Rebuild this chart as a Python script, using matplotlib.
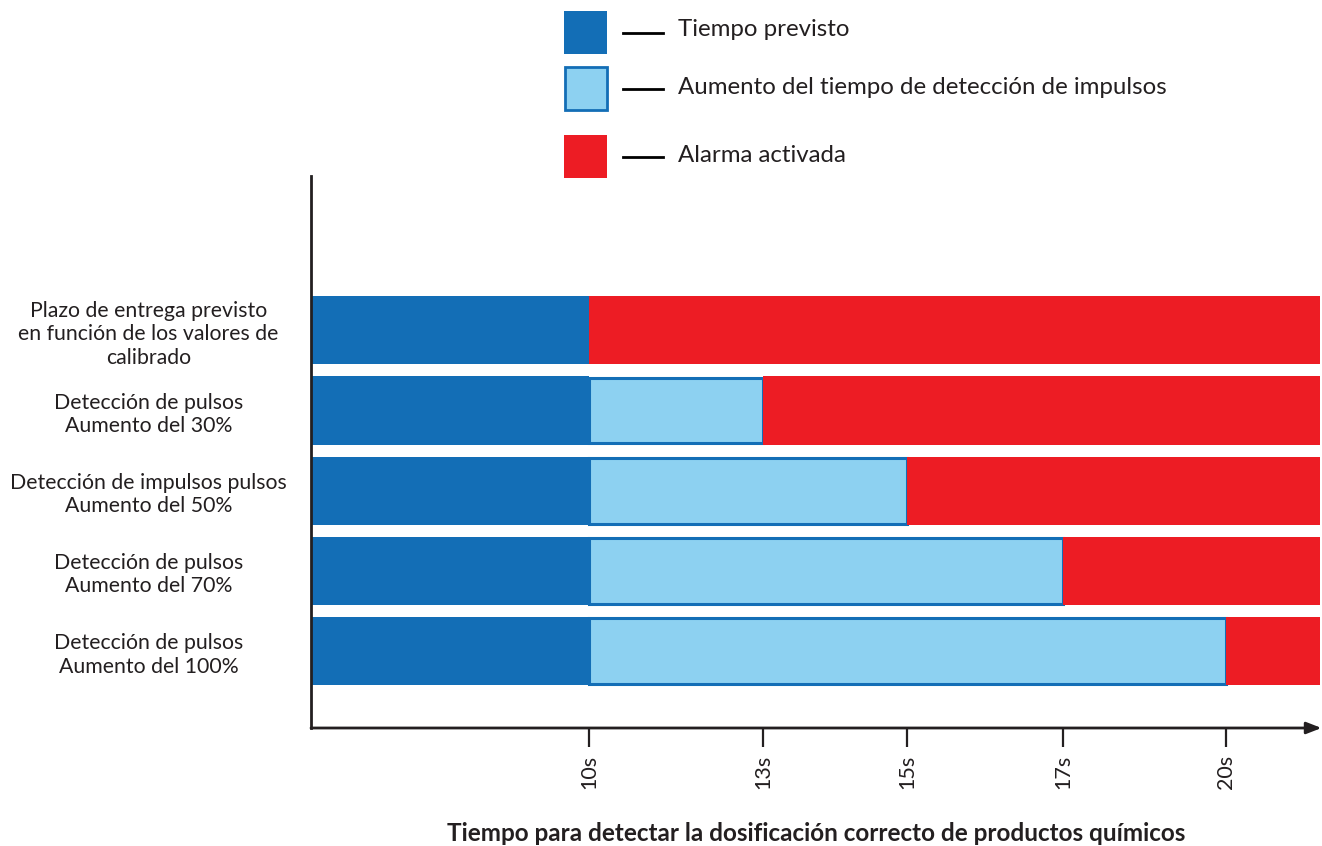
import numpy as np
import matplotlib
matplotlib.use("Agg")
import matplotlib.pyplot as plt
from matplotlib.patches import Rectangle
from matplotlib.lines import Line2D

plt.rcParams['font.family'] = ['Lato', 'DejaVu Sans']

# ---- data ----
categories = [
    "Plazo de entrega previsto\nen función de los valores de\ncalibrado",
    "Detección de pulsos\nAumento del 30%",
    "Detección de impulsos pulsos\nAumento del 50%",
    "Detección de pulsos\nAumento del 70%",
    "Detección de pulsos\nAumento del 100%",
]
expected_time = [10, 10, 10, 10, 10]          # Tiempo previsto (s)
detection_end = [10, 13, 15, 17, 20]          # fin del aumento de detección (s)
alarm_end = 22                                # fin de la escala (alarma)
tick_values = [10, 13, 15, 17, 20]
tick_labels = ["10s", "13s", "15s", "17s", "20s"]
legend_labels = ["Tiempo previsto", "Aumento del tiempo de detección de impulsos", "Alarma activada"]
xlabel = "Tiempo para detectar la dosificación correcto de productos químicos"

DARK = "#136EB6"
LIGHT = "#8DD1F1"
RED = "#ED1C24"
INK = "#231F20"

W, H = 1322, 846
fig = plt.figure(figsize=(W / 100, H / 100), dpi=100)

def fx(x):
    return x / W

def fy(y):
    return 1 - y / H

ax = fig.add_axes([fx(311), fy(728), fx(1320) - fx(311), fy(176) - fy(728)])

# schematic (non-linear) time axis
anchor_s = np.array([0, 10, 13, 15, 17, 20, 22], dtype=float)
anchor_p = np.array([0, 278, 452, 596, 752, 915, 1009], dtype=float)

def fwd(x):
    return np.interp(x, anchor_s, anchor_p)

def inv(p):
    return np.interp(p, anchor_p, anchor_s)

ax.set_xscale('function', functions=(fwd, inv))

y = np.arange(len(categories))
h = 0.85
ax.barh(y, expected_time, height=h, color=DARK, linewidth=0)
det_w = [d - e for d, e in zip(detection_end, expected_time)]
for yi, e, w in zip(y, expected_time, det_w):
    if w > 0:
        ax.barh(yi, w, left=e, height=h * 0.965, color=LIGHT,
                edgecolor=DARK, linewidth=2.2)
red_w = [alarm_end - d for d in detection_end]
ax.barh(y, red_w, left=detection_end, height=h, color=RED, linewidth=0)

ax.set_xlim(0, alarm_end)
ax.set_ylim(4.96, -1.925)

ax.set_yticks(y)
ax.set_yticklabels(categories, ha='center', fontsize=15.3, color=INK,
                   linespacing=1.22)
ax.tick_params(axis='y', length=0, pad=117)

ax.set_xticks(tick_values)
ax.set_xticklabels(tick_labels, rotation=90, fontsize=15.5, color=INK, va='top')
ax.xaxis.set_minor_locator(matplotlib.ticker.NullLocator())
ax.tick_params(axis='x', length=14, width=1.6, color=INK, pad=5, direction='out')

for s in ['top', 'right', 'bottom']:
    ax.spines[s].set_visible(False)
ax.spines['left'].set_color(INK)
ax.spines['left'].set_linewidth(2)

ax.annotate("", xy=(1.0015, 0), xytext=(0, 0), xycoords='axes fraction',
            textcoords='axes fraction',
            arrowprops=dict(arrowstyle='-|>,head_length=0.9,head_width=0.35',
                            color=INK, lw=2, shrinkA=0, shrinkB=0),
            annotation_clip=False)

fig.text(fx(816), fy(833), xlabel, ha='center', va='center',
         fontsize=17.5, fontweight='bold', color=INK)

# legend (manual)
leg_colors = [DARK, LIGHT, RED]
leg_tops = [11, 67, 135]
leg_text_y = [30, 88, 155]
for col, top, ty, lab in zip(leg_colors, leg_tops, leg_text_y, legend_labels):
    if col == LIGHT:
        r = Rectangle((fx(565), fy(top + 43)), fx(42), fy(top) - fy(top + 43),
                      transform=fig.transFigure, facecolor=col, edgecolor=DARK,
                      linewidth=2)
    else:
        r = Rectangle((fx(564), fy(top + 43)), fx(43), fy(top) - fy(top + 43),
                      transform=fig.transFigure, facecolor=col, edgecolor='none')
    fig.patches.append(r)
    ly = top + 22
    fig.lines.append(Line2D([fx(623), fx(663)], [fy(ly), fy(ly)],
                            transform=fig.transFigure, color='black', lw=2))
    fig.text(fx(678), fy(ty), lab, ha='left', va='center', fontsize=17.3, color=INK)

fig.savefig("out.png", dpi=100)
